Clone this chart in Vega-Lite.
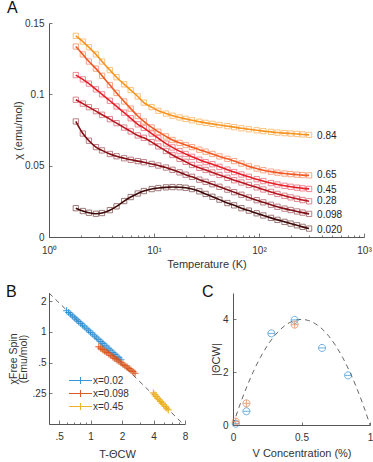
{
  "$schema": "https://vega.github.io/schema/vega-lite/v6.json",
  "background": "white",
  "padding": {"left": 6, "top": 0, "right": 0, "bottom": 0},
  "config": {
    "font": "Liberation Sans",
    "view": {"stroke": null},
    "axis": {"grid": false, "domainColor": "#555", "tickColor": "#555", "labelColor": "#333", "titleColor": "#333", "labelFontSize": 10, "titleFontSize": 11, "titleFontWeight": "normal", "domainWidth": 1, "tickWidth": 0.8, "labelFont": "Liberation Sans", "titleFont": "Liberation Sans"},
    "title": {"fontSize": 16, "fontWeight": "normal", "anchor": "start", "frame": "group", "font": "Liberation Sans", "color": "#111"}
  },
  "datasets": {
    "chi": [
      {"s":"0.84","T":1.8,"c":0.141},{"s":"0.84","T":2.1,"c":0.137},{"s":"0.84","T":2.4,"c":0.133},{"s":"0.84","T":2.8,"c":0.128},{"s":"0.84","T":3.2,"c":0.123},{"s":"0.84","T":3.8,"c":0.117},{"s":"0.84","T":4.4,"c":0.112},{"s":"0.84","T":5.2,"c":0.107},{"s":"0.84","T":6,"c":0.103},{"s":"0.84","T":7,"c":0.0985},{"s":"0.84","T":8,"c":0.0942},{"s":"0.84","T":9.5,"c":0.091},{"s":"0.84","T":11,"c":0.0885},{"s":"0.84","T":13,"c":0.0865},{"s":"0.84","T":15,"c":0.085},{"s":"0.84","T":17.5,"c":0.0838},{"s":"0.84","T":20,"c":0.0828},{"s":"0.84","T":23,"c":0.0818},{"s":"0.84","T":27,"c":0.0808},{"s":"0.84","T":31,"c":0.08},{"s":"0.84","T":36,"c":0.0793},{"s":"0.84","T":42,"c":0.0785},{"s":"0.84","T":50,"c":0.0777},{"s":"0.84","T":58,"c":0.077},{"s":"0.84","T":68,"c":0.0762},{"s":"0.84","T":80,"c":0.0755},{"s":"0.84","T":95,"c":0.0748},{"s":"0.84","T":110,"c":0.0742},{"s":"0.84","T":130,"c":0.0737},{"s":"0.84","T":150,"c":0.0732},{"s":"0.84","T":175,"c":0.0728},{"s":"0.84","T":200,"c":0.0725},{"s":"0.84","T":230,"c":0.0722},{"s":"0.84","T":260,"c":0.0719},{"s":"0.84","T":300,"c":0.0716},
      {"s":"0.65","T":1.8,"c":0.1335},{"s":"0.65","T":2.1,"c":0.128},{"s":"0.65","T":2.4,"c":0.123},{"s":"0.65","T":2.8,"c":0.118},{"s":"0.65","T":3.2,"c":0.113},{"s":"0.65","T":3.8,"c":0.1065},{"s":"0.65","T":4.4,"c":0.101},{"s":"0.65","T":5.2,"c":0.095},{"s":"0.65","T":6,"c":0.09},{"s":"0.65","T":7,"c":0.0848},{"s":"0.65","T":8,"c":0.081},{"s":"0.65","T":9.5,"c":0.0768},{"s":"0.65","T":11,"c":0.0738},{"s":"0.65","T":13,"c":0.0705},{"s":"0.65","T":15,"c":0.068},{"s":"0.65","T":17.5,"c":0.066},{"s":"0.65","T":20,"c":0.0645},{"s":"0.65","T":23,"c":0.063},{"s":"0.65","T":27,"c":0.0612},{"s":"0.65","T":31,"c":0.0598},{"s":"0.65","T":36,"c":0.0582},{"s":"0.65","T":42,"c":0.0565},{"s":"0.65","T":50,"c":0.0548},{"s":"0.65","T":58,"c":0.0532},{"s":"0.65","T":68,"c":0.0515},{"s":"0.65","T":80,"c":0.0495},{"s":"0.65","T":95,"c":0.048},{"s":"0.65","T":110,"c":0.0468},{"s":"0.65","T":130,"c":0.0458},{"s":"0.65","T":150,"c":0.0451},{"s":"0.65","T":175,"c":0.0445},{"s":"0.65","T":200,"c":0.0441},{"s":"0.65","T":230,"c":0.0437},{"s":"0.65","T":260,"c":0.0434},{"s":"0.65","T":300,"c":0.0432},
      {"s":"0.45","T":1.8,"c":0.1135},{"s":"0.45","T":2.1,"c":0.1105},{"s":"0.45","T":2.4,"c":0.1075},{"s":"0.45","T":2.8,"c":0.1035},{"s":"0.45","T":3.2,"c":0.1},{"s":"0.45","T":3.8,"c":0.0955},{"s":"0.45","T":4.4,"c":0.0915},{"s":"0.45","T":5.2,"c":0.0872},{"s":"0.45","T":6,"c":0.0832},{"s":"0.45","T":7,"c":0.079},{"s":"0.45","T":8,"c":0.0765},{"s":"0.45","T":9.5,"c":0.0725},{"s":"0.45","T":11,"c":0.0692},{"s":"0.45","T":13,"c":0.0655},{"s":"0.45","T":15,"c":0.0628},{"s":"0.45","T":17.5,"c":0.0602},{"s":"0.45","T":20,"c":0.0582},{"s":"0.45","T":23,"c":0.0562},{"s":"0.45","T":27,"c":0.0542},{"s":"0.45","T":31,"c":0.0525},{"s":"0.45","T":36,"c":0.051},{"s":"0.45","T":42,"c":0.0492},{"s":"0.45","T":50,"c":0.0472},{"s":"0.45","T":58,"c":0.0455},{"s":"0.45","T":68,"c":0.0438},{"s":"0.45","T":80,"c":0.0422},{"s":"0.45","T":95,"c":0.0405},{"s":"0.45","T":110,"c":0.0392},{"s":"0.45","T":130,"c":0.0378},{"s":"0.45","T":150,"c":0.0368},{"s":"0.45","T":175,"c":0.0359},{"s":"0.45","T":200,"c":0.0352},{"s":"0.45","T":230,"c":0.0346},{"s":"0.45","T":260,"c":0.0341},{"s":"0.45","T":300,"c":0.0337},
      {"s":"0.28","T":1.8,"c":0.0962},{"s":"0.28","T":2.1,"c":0.0935},{"s":"0.28","T":2.4,"c":0.091},{"s":"0.28","T":2.8,"c":0.0882},{"s":"0.28","T":3.2,"c":0.0857},{"s":"0.28","T":3.8,"c":0.0826},{"s":"0.28","T":4.4,"c":0.0798},{"s":"0.28","T":5.2,"c":0.0767},{"s":"0.28","T":6,"c":0.074},{"s":"0.28","T":7,"c":0.0712},{"s":"0.28","T":8,"c":0.0695},{"s":"0.28","T":9.5,"c":0.0665},{"s":"0.28","T":11,"c":0.0635},{"s":"0.28","T":13,"c":0.0603},{"s":"0.28","T":15,"c":0.0575},{"s":"0.28","T":17.5,"c":0.0548},{"s":"0.28","T":20,"c":0.0527},{"s":"0.28","T":23,"c":0.0505},{"s":"0.28","T":27,"c":0.0485},{"s":"0.28","T":31,"c":0.047},{"s":"0.28","T":36,"c":0.0452},{"s":"0.28","T":42,"c":0.0435},{"s":"0.28","T":50,"c":0.0415},{"s":"0.28","T":58,"c":0.0398},{"s":"0.28","T":68,"c":0.0382},{"s":"0.28","T":80,"c":0.0365},{"s":"0.28","T":95,"c":0.0348},{"s":"0.28","T":110,"c":0.0333},{"s":"0.28","T":130,"c":0.0316},{"s":"0.28","T":150,"c":0.0302},{"s":"0.28","T":175,"c":0.0289},{"s":"0.28","T":200,"c":0.0278},{"s":"0.28","T":230,"c":0.0268},{"s":"0.28","T":260,"c":0.0259},{"s":"0.28","T":300,"c":0.025},
      {"s":"0.098","T":1.8,"c":0.081},{"s":"0.098","T":2.1,"c":0.0725},{"s":"0.098","T":2.4,"c":0.0675},{"s":"0.098","T":2.8,"c":0.063},{"s":"0.098","T":3.2,"c":0.0607},{"s":"0.098","T":3.8,"c":0.0582},{"s":"0.098","T":4.4,"c":0.0566},{"s":"0.098","T":5.2,"c":0.0552},{"s":"0.098","T":6,"c":0.0541},{"s":"0.098","T":7,"c":0.0532},{"s":"0.098","T":8,"c":0.0524},{"s":"0.098","T":9.5,"c":0.0512},{"s":"0.098","T":11,"c":0.0501},{"s":"0.098","T":13,"c":0.0487},{"s":"0.098","T":15,"c":0.0471},{"s":"0.098","T":17.5,"c":0.0453},{"s":"0.098","T":20,"c":0.0437},{"s":"0.098","T":23,"c":0.0422},{"s":"0.098","T":27,"c":0.0402},{"s":"0.098","T":31,"c":0.0387},{"s":"0.098","T":36,"c":0.037},{"s":"0.098","T":42,"c":0.0352},{"s":"0.098","T":50,"c":0.0332},{"s":"0.098","T":58,"c":0.0314},{"s":"0.098","T":68,"c":0.0296},{"s":"0.098","T":80,"c":0.0277},{"s":"0.098","T":95,"c":0.0258},{"s":"0.098","T":110,"c":0.0243},{"s":"0.098","T":130,"c":0.0226},{"s":"0.098","T":150,"c":0.0212},{"s":"0.098","T":175,"c":0.0199},{"s":"0.098","T":200,"c":0.0189},{"s":"0.098","T":230,"c":0.0179},{"s":"0.098","T":260,"c":0.0171},{"s":"0.098","T":300,"c":0.0162},
      {"s":"0.020","T":1.8,"c":0.0202},{"s":"0.020","T":2.1,"c":0.0182},{"s":"0.020","T":2.4,"c":0.017},{"s":"0.020","T":2.8,"c":0.0163},{"s":"0.020","T":3.2,"c":0.0168},{"s":"0.020","T":3.8,"c":0.0188},{"s":"0.020","T":4.4,"c":0.0215},{"s":"0.020","T":5.2,"c":0.0252},{"s":"0.020","T":6,"c":0.028},{"s":"0.020","T":7,"c":0.0305},{"s":"0.020","T":8,"c":0.0322},{"s":"0.020","T":9.5,"c":0.0336},{"s":"0.020","T":11,"c":0.0343},{"s":"0.020","T":13,"c":0.0348},{"s":"0.020","T":15,"c":0.035},{"s":"0.020","T":17.5,"c":0.0349},{"s":"0.020","T":20,"c":0.0345},{"s":"0.020","T":23,"c":0.0336},{"s":"0.020","T":27,"c":0.032},{"s":"0.020","T":31,"c":0.0302},{"s":"0.020","T":36,"c":0.0282},{"s":"0.020","T":42,"c":0.0262},{"s":"0.020","T":50,"c":0.0238},{"s":"0.020","T":58,"c":0.0222},{"s":"0.020","T":68,"c":0.0202},{"s":"0.020","T":80,"c":0.0185},{"s":"0.020","T":95,"c":0.0166},{"s":"0.020","T":110,"c":0.0151},{"s":"0.020","T":130,"c":0.0134},{"s":"0.020","T":150,"c":0.012},{"s":"0.020","T":175,"c":0.0106},{"s":"0.020","T":200,"c":0.0094},{"s":"0.020","T":230,"c":0.0082},{"s":"0.020","T":260,"c":0.0071},{"s":"0.020","T":300,"c":0.0059}
    ],
    "chiLabels": [
      {"s":"0.84","T":300,"c":0.0709},{"s":"0.65","T":300,"c":0.0432},{"s":"0.45","T":300,"c":0.0326},{"s":"0.28","T":300,"c":0.0254},{"s":"0.098","T":300,"c":0.0155},{"s":"0.020","T":300,"c":0.0052}
    ],
    "free": [
      {"g":"x=0.02","t":0.59,"f":1.61},{"g":"x=0.02","t":0.617,"f":1.545},{"g":"x=0.02","t":0.645,"f":1.485},{"g":"x=0.02","t":0.675,"f":1.425},{"g":"x=0.02","t":0.705,"f":1.368},{"g":"x=0.02","t":0.737,"f":1.31},{"g":"x=0.02","t":0.77,"f":1.259},{"g":"x=0.02","t":0.805,"f":1.21},{"g":"x=0.02","t":0.841,"f":1.161},{"g":"x=0.02","t":0.88,"f":1.113},{"g":"x=0.02","t":0.92,"f":1.069},{"g":"x=0.02","t":0.962,"f":1.025},{"g":"x=0.02","t":1.004,"f":0.984},{"g":"x=0.02","t":1.05,"f":0.945},{"g":"x=0.02","t":1.097,"f":0.908},{"g":"x=0.02","t":1.147,"f":0.87},{"g":"x=0.02","t":1.199,"f":0.835},{"g":"x=0.02","t":1.253,"f":0.801},{"g":"x=0.02","t":1.31,"f":0.77},{"g":"x=0.02","t":1.37,"f":0.738},{"g":"x=0.02","t":1.432,"f":0.709},{"g":"x=0.02","t":1.497,"f":0.68},{"g":"x=0.02","t":1.564,"f":0.652},{"g":"x=0.02","t":1.635,"f":0.625},{"g":"x=0.02","t":1.709,"f":0.601},{"g":"x=0.02","t":1.787,"f":0.577},{"g":"x=0.02","t":1.867,"f":0.555},{"g":"x=0.02","t":1.95,"f":0.532},
      {"g":"x=0.098","t":1.199,"f":0.715},{"g":"x=0.098","t":1.253,"f":0.692},{"g":"x=0.098","t":1.31,"f":0.669},{"g":"x=0.098","t":1.37,"f":0.647},{"g":"x=0.098","t":1.432,"f":0.626},{"g":"x=0.098","t":1.497,"f":0.606},{"g":"x=0.098","t":1.564,"f":0.587},{"g":"x=0.098","t":1.635,"f":0.568},{"g":"x=0.098","t":1.709,"f":0.549},{"g":"x=0.098","t":1.787,"f":0.531},{"g":"x=0.098","t":1.867,"f":0.514},{"g":"x=0.098","t":1.95,"f":0.497},{"g":"x=0.098","t":2.04,"f":0.481},{"g":"x=0.098","t":2.13,"f":0.466},{"g":"x=0.098","t":2.23,"f":0.451},{"g":"x=0.098","t":2.33,"f":0.436},{"g":"x=0.098","t":2.435,"f":0.421},{"g":"x=0.098","t":2.545,"f":0.407},{"g":"x=0.098","t":2.66,"f":0.393},
      {"g":"x=0.45","t":3.99,"f":0.252},{"g":"x=0.45","t":4.12,"f":0.242},{"g":"x=0.45","t":4.24,"f":0.233},{"g":"x=0.45","t":4.38,"f":0.224},{"g":"x=0.45","t":4.53,"f":0.216},{"g":"x=0.45","t":4.68,"f":0.208},{"g":"x=0.45","t":4.84,"f":0.2},{"g":"x=0.45","t":5.0,"f":0.193},{"g":"x=0.45","t":5.17,"f":0.186},{"g":"x=0.45","t":5.35,"f":0.179},{"g":"x=0.45","t":5.53,"f":0.172}
    ],
    "freeFit": [{"t":0.4,"f":2.4},{"t":8,"f":0.12}],
    "theta": [
      {"g":"a","v":0.02,"th":0.05},{"g":"a","v":0.098,"th":0.52},{"g":"a","v":0.28,"th":3.47},{"g":"a","v":0.45,"th":3.98},{"g":"a","v":0.65,"th":2.92},{"g":"a","v":0.84,"th":1.88},
      {"g":"b","v":0.02,"th":0.13},{"g":"b","v":0.098,"th":0.82},{"g":"b","v":0.45,"th":3.8}
    ],
    "thetaFit": [
      {"v":0,"th":0},{"v":0.05,"th":0.76},{"v":0.1,"th":1.44},{"v":0.15,"th":2.04},{"v":0.2,"th":2.56},{"v":0.25,"th":3.0},{"v":0.3,"th":3.36},{"v":0.35,"th":3.64},{"v":0.4,"th":3.84},{"v":0.45,"th":3.96},{"v":0.5,"th":4.0},{"v":0.55,"th":3.96},{"v":0.6,"th":3.84},{"v":0.65,"th":3.64},{"v":0.7,"th":3.36},{"v":0.75,"th":3.0},{"v":0.8,"th":2.56},{"v":0.85,"th":2.04},{"v":0.9,"th":1.44},{"v":0.95,"th":0.76},{"v":1,"th":0}
    ]
  },
  "spacing": 15,
  "resolve": {"scale": {"color": "independent", "stroke": "independent", "shape": "independent"}, "legend": {"color": "independent"}},
  "vconcat": [
    {
      "title": {"text": "A", "dx": -42, "offset": 2},
      "width": 315,
      "height": 214,
      "layer": [
        {
          "data": {"name": "chi"},
          "mark": {"type": "point", "shape": "square", "filled": false, "size": 28, "strokeWidth": 0.8, "opacity": 0.9},
          "encoding": {
            "x": {"field": "T", "type": "quantitative", "scale": {"type": "log", "domain": [1, 1000], "nice": false},
                  "axis": {"title": "Temperature (K)", "values": [1,2,3,4,5,6,7,8,9,10,20,30,40,50,60,70,80,90,100,200,300,400,500,600,700,800,900,1000],
                           "labelExpr": "datum.value == 1 ? '10⁰' : datum.value == 10 ? '10¹' : datum.value == 100 ? '10²' : datum.value == 1000 ? '10³' : ''",
                           "tickSize": {"condition": {"test": "datum.value == 1 || datum.value == 10 || datum.value == 100 || datum.value == 1000", "value": -4}, "value": -2},
                           "labelPadding": 12, "labelFlush": false, "labelOverlap": false, "titlePadding": 1}},
            "y": {"field": "c", "type": "quantitative", "scale": {"domain": [0, 0.15], "nice": false},
                  "axis": {"title": "χ (emu/mol)", "values": [0, 0.05, 0.1, 0.15], "format": "~g", "tickSize": -3, "labelPadding": 8, "titlePadding": 1}},
            "color": {"field": "s", "type": "nominal", "legend": null,
                      "scale": {"domain": ["0.84","0.65","0.45","0.28","0.098","0.020"], "range": ["#f9ac52","#f6865a","#ee5e6e","#cf5a66","#a0505a","#7a4848"]}}
          }
        },
        {
          "data": {"name": "chi"},
          "mark": {"type": "line", "strokeWidth": 1.6, "interpolate": "monotone"},
          "encoding": {
            "x": {"field": "T", "type": "quantitative"},
            "y": {"field": "c", "type": "quantitative"},
            "detail": {"field": "s"},
            "stroke": {"field": "s", "type": "nominal", "legend": null,
                      "scale": {"domain": ["0.84","0.65","0.45","0.28","0.098","0.020"], "range": ["#f7931e","#f15a24","#e61e25","#b8151f","#7f0f14","#3f0808"]}}
          }
        },
        {
          "data": {"name": "chiLabels"},
          "mark": {"type": "text", "align": "left", "baseline": "middle", "dx": 8, "fontSize": 10, "color": "#222"},
          "encoding": {
            "x": {"field": "T", "type": "quantitative"},
            "y": {"field": "c", "type": "quantitative"},
            "text": {"field": "s"}
          }
        }
      ],
      "resolve": {"scale": {"color": "independent", "stroke": "independent"}}
    },
    {
      "spacing": 14,
      "resolve": {"scale": {"color": "independent", "shape": "independent"}, "legend": {"color": "independent"}},
      "hconcat": [
        {
          "title": {"text": "B", "dx": -43, "offset": -7},
          "width": 136,
          "height": 131,
          "layer": [
            {
              "data": {"name": "freeFit"},
              "mark": {"type": "line", "color": "#555", "strokeWidth": 0.9, "strokeDash": [5, 4], "clip": true},
              "encoding": {
                "x": {"field": "t", "type": "quantitative", "scale": {"type": "log", "domain": [0.4, 8], "nice": false},
                      "axis": {"title": "T-ΘCW", "values": [0.4,0.5,0.6,0.7,0.8,0.9,1,2,3,4,5,6,7,8],
                               "labelExpr": "datum.value == 0.5 ? '.5' : datum.value == 1 ? '1' : datum.value == 2 ? '2' : datum.value == 4 ? '4' : datum.value == 8 ? '8' : ''",
                               "tickSize": {"condition": {"test": "datum.value == 0.5 || datum.value == 1 || datum.value == 2 || datum.value == 4 || datum.value == 8", "value": -4}, "value": -2},
                               "labelPadding": 11, "labelFlush": false, "labelOverlap": false, "titlePadding": 5}},
                "y": {"field": "f", "type": "quantitative", "scale": {"type": "log", "domain": [0.125, 2.4], "nice": false},
                      "axis": {"title": ["χFree Spin", "(Emu/mol)"], "values": [0.25, 0.5, 1, 2],
                               "labelExpr": "datum.value == 0.25 ? '.25' : datum.value == 0.5 ? '.5' : datum.value == 1 ? '1' : '2'",
                               "tickSize": -3, "labelPadding": 6, "titlePadding": 4, "titleFontSize": 10.5, "titleLineHeight": 10}}
              }
            },
            {
              "data": {"name": "free"},
              "mark": {"type": "point", "shape": "M-1,0H1M0,-1V1", "filled": false, "size": 50, "strokeWidth": 1.1, "opacity": 0.95},
              "encoding": {
                "x": {"field": "t", "type": "quantitative"},
                "y": {"field": "f", "type": "quantitative"},
                "color": {"field": "g", "type": "nominal",
                          "scale": {"domain": ["x=0.02","x=0.098","x=0.45"], "range": ["#2f8fd4","#d95319","#edb120"]},
                          "legend": {"orient": "none", "legendX": 26, "legendY": 82, "padding": 0, "title": null, "symbolType": "M-2.3,0H2.3M0,-0.7V0.7", "symbolSize": 100, "symbolStrokeWidth": 1, "labelFontSize": 10, "labelColor": "#333", "rowPadding": 2, "labelOffset": 7, "labelFont": "Liberation Sans"}}
              }
            }
          ]
        },
        {
          "title": {"text": "C", "dx": -31, "offset": -7},
          "width": 137,
          "height": 132,
          "layer": [
            {
              "data": {"name": "thetaFit"},
              "mark": {"type": "line", "color": "#555", "strokeWidth": 0.9, "strokeDash": [5, 4], "interpolate": "monotone"},
              "encoding": {
                "x": {"field": "v", "type": "quantitative", "scale": {"domain": [0, 1], "nice": false},
                      "axis": {"title": "V Concentration (%)", "values": [0, 0.5, 1], "format": "~g", "tickSize": -3, "labelPadding": 10, "labelFlush": false, "titlePadding": 5}},
                "y": {"field": "th", "type": "quantitative", "scale": {"domain": [0, 5], "nice": false},
                      "axis": {"title": "|ΘCW|", "values": [0, 1, 2, 3, 4, 5], "tickSize": -3, "labelPadding": 8, "titlePadding": 1}}
              }
            },
            {
              "data": {"name": "theta"},
              "mark": {"type": "point", "filled": false, "size": 50, "strokeWidth": 1},
              "encoding": {
                "x": {"field": "v", "type": "quantitative"},
                "y": {"field": "th", "type": "quantitative"},
                "color": {"field": "g", "type": "nominal", "legend": null, "scale": {"domain": ["a", "b"], "range": ["#2f8fd4", "#e08050"]}},
                "shape": {"field": "g", "type": "nominal", "legend": null, "scale": {"domain": ["a", "b"], "range": ["M-1,0A1,1,0,1,1,1,0A1,1,0,1,1,-1,0ZM-1,0H1", "M-1,0A1,1,0,1,1,1,0A1,1,0,1,1,-1,0ZM-1,0H1M0,-1V1"]}}
              }
            }
          ]
        }
      ]
    }
  ]
}
